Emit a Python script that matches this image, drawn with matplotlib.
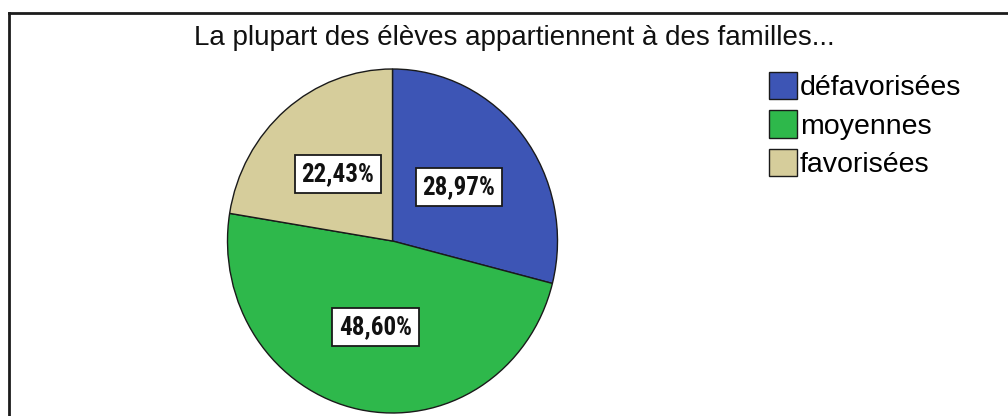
import matplotlib
matplotlib.use("Agg")
import matplotlib.pyplot as plt
from matplotlib.lines import Line2D
from matplotlib import font_manager

categories = ["défavorisées", "moyennes", "favorisées"]
values = [28.97, 48.60, 22.43]
colors = ["#3D55B5", "#2EB84B", "#D6CD9B"]
title = "La plupart des élèves appartiennent à des familles..."

names = {f.name for f in font_manager.fontManager.ttflist}
narrow = [n for n in ["Liberation Sans Narrow", "Roboto Condensed", "DejaVu Sans Condensed",
                      "Open Sans Condensed"] if n in names]

W, H = 1008, 416
fig = plt.figure(figsize=(W / 100, H / 100), dpi=100)
fig.patch.set_facecolor("white")

# frame (top and left edges visible)
fig.add_artist(Line2D([8.5 / W, 8.5 / W], [0, 1 - 13 / H], transform=fig.transFigure,
                      color="#1c1c1c", lw=2.0))
fig.add_artist(Line2D([8.5 / W, 1], [1 - 13 / H, 1 - 13 / H], transform=fig.transFigure,
                      color="#1c1c1c", lw=2.0))

cx, cy, rx, ry = 392.5, 241, 165, 172
ax = fig.add_axes([(cx - rx) / W, (H - cy - ry) / H, 2 * rx / W, 2 * ry / H])

def fmt(p):
    return f"{p:.2f}%".replace(".", ",")

label_family = narrow + ["Liberation Sans", "DejaVu Sans"]
wedges, texts, autotexts = ax.pie(
    values, colors=colors, startangle=90, counterclock=False,
    autopct=fmt, pctdistance=0.51,
    wedgeprops=dict(edgecolor="#1a1a1a", linewidth=1.0),
    textprops=dict(fontsize=18, fontweight="bold", color="#111111",
                   family=label_family, fontstretch="condensed"),
)
for t in autotexts:
    t.set_bbox(dict(boxstyle="square,pad=0.27", facecolor="white",
                    edgecolor="#1a1a1a", linewidth=1.3))
ax.set_aspect("auto")
ax.set_xlim(-1, 1)
ax.set_ylim(-1, 1)
ax.axis("off")
for w in wedges:
    w.set_clip_on(False)

fig.text(514 / W, 1 - 38 / H, title, ha="center", va="center",
         fontsize=20, family=["Liberation Sans", "DejaVu Sans"], color="#111111")

fig.legend(wedges, categories, loc="upper left",
           bbox_to_anchor=(769 / W, 1 - 72 / H), frameon=False,
           prop=dict(family=["Liberation Sans", "DejaVu Sans"], size=20.5),
           handlelength=1.0, handleheight=1.1, handletextpad=0.08,
           labelspacing=0.32, borderpad=0, borderaxespad=0)

fig.savefig("out.png", dpi=100, facecolor="white")
